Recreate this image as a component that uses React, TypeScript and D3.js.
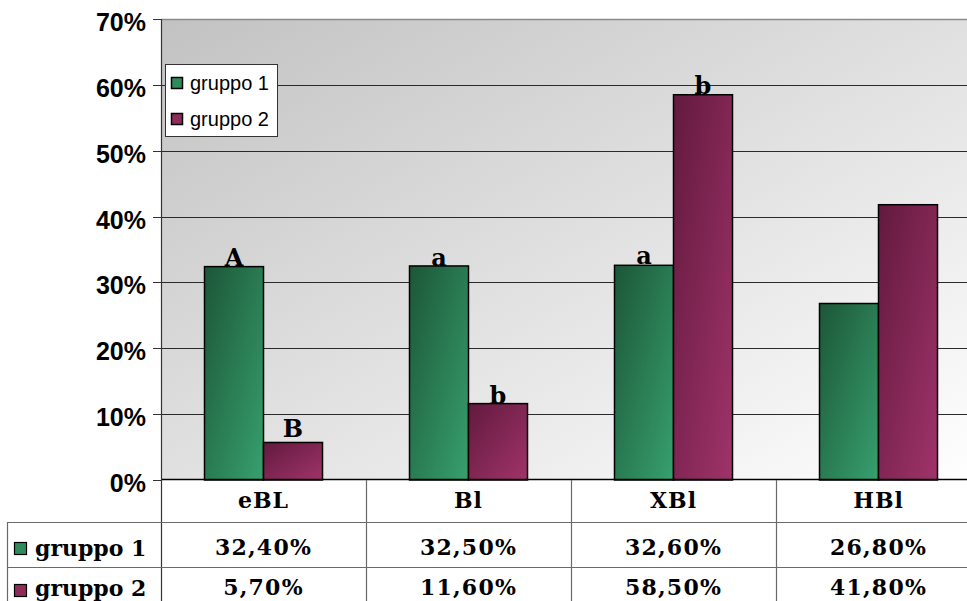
import React from "react";
import * as d3 from "d3";

const categories = ["eBL", "Bl", "XBl", "HBl"];
const seriesNames = ["gruppo 1", "gruppo 2"];
const gruppo1 = [32.4, 32.5, 32.6, 26.8];
const gruppo2 = [5.7, 11.6, 58.5, 41.8];
const tableRow1 = ["32,40%", "32,50%", "32,60%", "26,80%"];
const tableRow2 = ["5,70%", "11,60%", "58,50%", "41,80%"];
const yTicks = [0, 10, 20, 30, 40, 50, 60, 70];
// annotations: [category index, series index, letter, extra lift]
const annotations: [number, number, string, number][] = [
  [0, 0, "A", 1],
  [0, 1, "B", 5],
  [1, 0, "a", 0],
  [1, 1, "b", 0],
  [2, 0, "a", 1],
  [2, 1, "b", 1],
];

const W = 967;
const H = 601;
const left = 161;
const top = 19;
const bottom = 480;
const band = 205;
const right = left + band * categories.length;

export default function App() {
  const y = d3.scaleLinear().domain([0, 70]).range([bottom, top]);
  const x = d3.scaleBand<string>().domain(categories).range([left, right]).padding(0);
  const xi = d3
    .scaleBand<string>()
    .domain(seriesNames)
    .range([(band - 118) / 2, (band - 118) / 2 + 118])
    .padding(0);
  const series = [gruppo1, gruppo2];
  const fills = ["url(#gGreen)", "url(#gPurple)"];
  const markerFill = ["#2e8b5c", "#8e2d5c"];
  const serif = "'DejaVu Serif', serif";
  const sans = "'Liberation Sans', Arial, sans-serif";
  const tableLine = "#6a6a6a";
  const row1Y = 522;
  const row2Y = 567;

  return (
    <svg
      width={W}
      height={H}
      style={{ position: "absolute", left: 0, top: 0, background: "#fff" }}
    >
      <defs>
        <linearGradient id="bgGrad" x1="0" y1="0" x2="1" y2="1">
          <stop offset="0" stopColor="#c2c2c2" />
          <stop offset="1" stopColor="#ffffff" />
        </linearGradient>
        <linearGradient id="gGreen" x1="0" y1="0" x2="1" y2="1">
          <stop offset="0" stopColor="#1c5638" />
          <stop offset="1" stopColor="#37a06d" />
        </linearGradient>
        <linearGradient id="gPurple" x1="0" y1="0" x2="1" y2="1">
          <stop offset="0" stopColor="#621a3e" />
          <stop offset="1" stopColor="#a0336a" />
        </linearGradient>
      </defs>

      {/* plot background */}
      <rect x={left} y={top} width={right - left} height={bottom - top} fill="url(#bgGrad)" />
      <line x1={left} x2={right} y1={top + 0.5} y2={top + 0.5} stroke="#8a8a8a" strokeWidth={1.5} />

      {/* gridlines */}
      {yTicks
        .filter((t) => t > 0 && t < 70)
        .map((t) => (
          <line
            key={"g" + t}
            x1={left}
            x2={right}
            y1={Math.round(y(t)) + 0.5}
            y2={Math.round(y(t)) + 0.5}
            stroke="#2a2a2a"
            strokeWidth={1}
          />
        ))}

      {/* y ticks & labels */}
      {yTicks.map((t) => (
        <g key={"t" + t}>
          <line
            x1={153}
            x2={left}
            y1={Math.round(y(t)) + 0.5}
            y2={Math.round(y(t)) + 0.5}
            stroke="#333"
          />
          <text
            x={146}
            y={y(t) + 12}
            textAnchor="end"
            fontFamily={sans}
            fontWeight="bold"
            fontSize={25}
            fill="#000"
          >
            {t + "%"}
          </text>
        </g>
      ))}

      {/* bars */}
      {categories.map((c, ci) =>
        series.map((s, si) => {
          const bx = (x(c) as number) + (xi(seriesNames[si]) as number);
          const by = y(s[ci]);
          return (
            <rect
              key={c + si}
              x={bx}
              y={by}
              width={xi.bandwidth()}
              height={bottom - by}
              fill={fills[si]}
              stroke="#000"
              strokeWidth={1.5}
            />
          );
        })
      )}

      {/* annotations */}
      {annotations.map(([ci, si, letter, lift], i) => {
        const bx = (x(categories[ci]) as number) + (xi(seriesNames[si]) as number) + xi.bandwidth() / 2;
        const by = y(series[si][ci]);
        return (
          <text
            key={"a" + i}
            x={bx}
            y={by - lift}
            textAnchor="middle"
            fontFamily={serif}
            fontWeight="bold"
            fontSize={24}
            fill="#000"
          >
            {letter}
          </text>
        );
      })}

      {/* baseline / axis */}
      <line x1={left} x2={W} y1={bottom - 0.5} y2={bottom - 0.5} stroke="#000" strokeWidth={1.5} />
      <line x1={left + 0.5} x2={left + 0.5} y1={top} y2={H} stroke="#333" strokeWidth={1.2} />

      {/* legend */}
      <rect x={165.5} y={64.5} width={112} height={72} fill="#fff" stroke="#333" strokeWidth={1} />
      {seriesNames.map((n, i) => (
        <g key={"lg" + i}>
          <rect
            x={171.5}
            y={77.5 + i * 36}
            width={11}
            height={11}
            fill={markerFill[i]}
            stroke="#000"
            strokeWidth={1.5}
          />
          <text x={190} y={90 + i * 36} fontFamily={sans} fontSize={20} fill="#000">
            {n}
          </text>
        </g>
      ))}

      {/* data table */}
      {categories.map((c, ci) => (
        <line
          key={"v" + ci}
          x1={(x(c) as number) + band + 0.5}
          x2={(x(c) as number) + band + 0.5}
          y1={bottom}
          y2={H}
          stroke={tableLine}
          strokeWidth={1.2}
        />
      ))}
      <line x1={7.5} x2={7.5} y1={row1Y} y2={H} stroke={tableLine} strokeWidth={1.2} />
      <line x1={7} x2={W} y1={row1Y + 0.5} y2={row1Y + 0.5} stroke={tableLine} strokeWidth={1.2} />
      <line x1={7} x2={W} y1={row2Y + 0.5} y2={row2Y + 0.5} stroke={tableLine} strokeWidth={1.2} />

      {categories.map((c, ci) => (
        <text
          key={"h" + ci}
          x={(x(c) as number) + band / 2}
          y={508}
          textAnchor="middle"
          fontFamily={serif}
          fontWeight="bold"
          fontSize={22}
          letterSpacing={1}
          fill="#000"
        >
          {c}
        </text>
      ))}
      {[tableRow1, tableRow2].map((row, ri) =>
        row.map((v, ci) => (
          <text
            key={"c" + ri + ci}
            x={(x(categories[ci]) as number) + band / 2}
            y={555 + ri * 40}
            textAnchor="middle"
            fontFamily={serif}
            fontWeight="bold"
            fontSize={22}
            letterSpacing={1.2}
            fill="#000"
          >
            {v}
          </text>
        ))
      )}
      {seriesNames.map((n, i) => (
        <g key={"rl" + i}>
          <rect
            x={14.5}
            y={542.5 + i * 42}
            width={12}
            height={12}
            fill={markerFill[i]}
            stroke="#000"
            strokeWidth={1.2}
          />
          <text
            x={35}
            y={556 + i * 40}
            fontFamily={serif}
            fontWeight="bold"
            fontSize={22}
            fill="#000"
          >
            {n}
          </text>
        </g>
      ))}
    </svg>
  );
}
